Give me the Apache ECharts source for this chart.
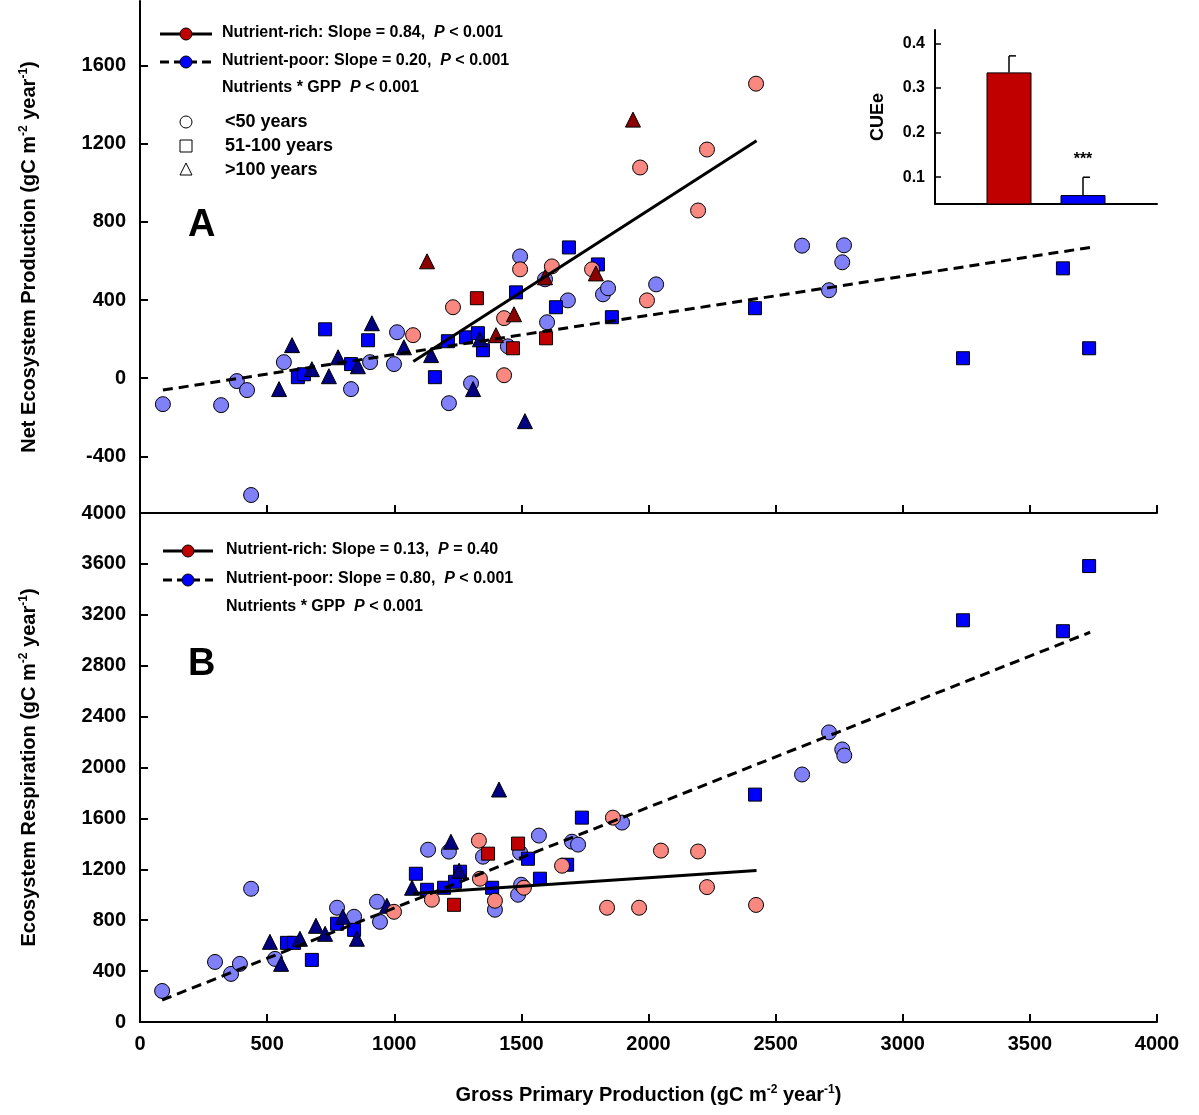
<!DOCTYPE html>
<html>
<head>
<meta charset="utf-8">
<script src="https://cdn.jsdelivr.net/npm/echarts@6/dist/echarts.min.js"></script>
<style>html,body{margin:0;padding:0;background:#fff}#main{width:1199px;height:1115px}</style>
</head>
<body>
<div id="main"></div>
<script>
// panel A: [GPP, NEP]
const nepPoorCircle = [[90,-133],[319,-138],[381,-15],[421,-61],[437,-598],[566,82],[830,-56],[905,82],[999,72],[1011,235],[1215,-128],[1302,-26],[1447,163],[1495,623],[1593,506],[1601,286],[1683,398],[1821,429],[1841,460],[2030,480],[2604,678],[2710,450],[2762,593],[2769,680]];
const nepPoorSquare = [[621,5],[645,20],[728,250],[830,72],[897,194],[1160,5],[1211,189],[1282,209],[1329,230],[1349,143],[1479,439],[1636,363],[1687,669],[1801,582],[1856,312],[2419,358],[3237,102],[3630,562],[3733,153]];
const nepPoorTri = [[547,-56],[598,169],[676,46],[743,10],[779,107],[857,61],[912,281],[1038,158],[1145,118],[1310,-56],[1337,199],[1514,-220]];
const nepRichCircle = [[1074,220],[1231,363],[1432,307],[1432,15],[1495,557],[1620,572],[1778,557],[1994,398],[1967,1078],[2230,1170],[2195,858],[2423,1507]];
const nepRichSquare = [[1325,409],[1467,153],[1597,204]];
const nepRichTri = [[1129,598],[1400,220],[1471,327],[1593,516],[1793,536],[1939,1323]];
const nepRichFit = [[1075,85],[2425,1215]];
const nepPoorFit = [[90,-61],[3737,669]];

// panel B: [GPP, ER]
const erPoorCircle = [[87,244],[295,472],[358,378],[393,457],[437,1047],[531,496],[775,898],[842,827],[932,945],[944,787],[1133,1354],[1215,1339],[1349,1299],[1396,882],[1495,1331],[1487,1000],[1499,1079],[1569,1465],[1699,1417],[1723,1394],[1896,1567],[2604,1945],[2710,2276],[2762,2142],[2770,2094]];
const erPoorSquare = [[578,622],[606,622],[676,488],[775,772],[842,724],[1085,1165],[1129,1039],[1196,1055],[1239,1102],[1259,1181],[1385,1055],[1526,1283],[1573,1126],[1680,1236],[1738,1606],[2419,1787],[3237,3157],[3630,3071],[3733,3583]];
const erPoorTri = [[511,630],[555,457],[629,654],[692,756],[728,693],[798,827],[853,654],[971,913],[1070,1055],[1223,1417],[1255,1189],[1412,1827]];
const erRichCircle = [[999,866],[1148,961],[1333,1425],[1337,1126],[1396,953],[1510,1055],[1660,1228],[1860,1606],[1837,898],[2049,1347],[1963,898],[2230,1060],[2195,1340],[2423,920]];
const erRichSquare = [[1235,921],[1369,1323],[1487,1402]];
const erRichFit = [[1075,1010],[2425,1190]];
const erPoorFit = [[87,173],[3737,3063]];

// inset CUEe
const cueValues = [[1,0.335],[2,0.06]];
const cueErr = [[1,0.335,0.372],[2,0.06,0.10]];

const nepTicks = [-400,0,400,800,1200,1600];
const cueTicks = [0.1,0.2,0.3,0.4];

const FONT = 'Liberation Sans';
const col = {
  poorCircle: '#8080f8', poorSquare: '#0000ff', poorTri: '#000080',
  richCircle: '#f88880', richSquare: '#c00000', richTri: '#8b0000'
};

function pts(data, symbol, color, idx, size) {
  return {
    type: 'scatter', xAxisIndex: idx, yAxisIndex: idx, data: data,
    symbol: symbol, symbolSize: size || 15,
    itemStyle: {color: color, borderColor: '#000', borderWidth: 1, opacity: 1},
    z: 3
  };
}
function fit(data, dashed, idx) {
  return {
    type: 'line', xAxisIndex: idx, yAxisIndex: idx, data: data, symbol: 'none',
    lineStyle: {color: '#000', width: 3, type: dashed ? [10, 6] : 'solid'}, z: 4
  };
}
const plain = function (v) { return String(v); };

const axisLineStyle = {show: true, onZero: false, lineStyle: {color: '#000', width: 2}};
const labelStyle = {color: '#000', fontSize: 20, fontWeight: 'bold', fontFamily: FONT, formatter: plain};
const nameRich = {
  b: {fontSize: 20, fontWeight: 'bold', fontFamily: FONT, color: '#000'},
  s: {fontSize: 12, fontWeight: 'bold', fontFamily: FONT, color: '#000', padding: [0, 0, 10, 0]}
};

const option = {
  animation: false,
  grid: [
    {left: 140, top: 1, width: 1017, height: 512},
    {left: 140, top: 513, width: 1017, height: 509},
    {left: 935, top: 30, width: 222, height: 174}
  ],
  xAxis: [
    {gridIndex: 0, type: 'value', min: 0, max: 4000, interval: 500,
      axisLine: axisLineStyle, axisTick: {inside: true, length: 8, lineStyle: {color: '#000', width: 2}},
      axisLabel: {show: false}, splitLine: {show: false}},
    {gridIndex: 1, type: 'value', min: 0, max: 4000, interval: 500,
      axisLine: axisLineStyle, axisTick: {inside: true, length: 8, lineStyle: {color: '#000', width: 2}},
      axisLabel: Object.assign({margin: 12}, labelStyle), splitLine: {show: false},
      name: '{b|Gross Primary Production (gC m}{s|-2}{b| year}{s|-1}{b|)}',
      nameLocation: 'middle', nameGap: 62, nameTextStyle: {rich: nameRich}},
    {gridIndex: 2, type: 'value', min: 0, max: 3,
      axisLine: axisLineStyle, axisTick: {show: false}, axisLabel: {show: false}, splitLine: {show: false}}
  ],
  yAxis: [
    {gridIndex: 0, type: 'value', min: -690, max: 1930,
      axisLine: axisLineStyle,
      axisTick: {inside: true, length: 8, customValues: nepTicks, lineStyle: {color: '#000', width: 2}},
      axisLabel: Object.assign({customValues: nepTicks, margin: 14}, labelStyle), splitLine: {show: false},
      name: '{b|Net Ecosystem Production (gC m}{s|-2}{b| year}{s|-1}{b|)}',
      nameLocation: 'middle', nameGap: 100, nameTextStyle: {rich: nameRich}},
    {gridIndex: 1, type: 'value', min: 0, max: 4000, interval: 400,
      axisLine: axisLineStyle,
      axisTick: {inside: true, length: 8, lineStyle: {color: '#000', width: 2}},
      axisLabel: Object.assign({margin: 14}, labelStyle), splitLine: {show: false},
      name: '{b|Ecosystem Respiration (gC m}{s|-2}{b| year}{s|-1}{b|)}',
      nameLocation: 'middle', nameGap: 100, nameTextStyle: {rich: nameRich}},
    {gridIndex: 2, type: 'value', min: 0.04, max: 0.43,
      axisLine: axisLineStyle,
      axisTick: {inside: true, length: 6, customValues: cueTicks, lineStyle: {color: '#000', width: 1.5}},
      axisLabel: {customValues: cueTicks, color: '#000', fontSize: 16, fontWeight: 'bold', fontFamily: FONT, margin: 10},
      splitLine: {show: false},
      name: 'CUEe', nameLocation: 'middle', nameGap: 48,
      nameTextStyle: {fontSize: 18, fontWeight: 'bold', fontFamily: FONT, color: '#000'}}
  ],
  series: [
    fit(nepPoorFit, true, 0),
    fit(nepRichFit, false, 0),
    pts(nepPoorCircle, 'circle', col.poorCircle, 0),
    pts(nepPoorSquare, 'rect', col.poorSquare, 0, 13),
    pts(nepPoorTri, 'triangle', col.poorTri, 0),
    pts(nepRichCircle, 'circle', col.richCircle, 0),
    pts(nepRichSquare, 'rect', col.richSquare, 0, 13),
    pts(nepRichTri, 'triangle', col.richTri, 0),
    fit(erPoorFit, true, 1),
    fit(erRichFit, false, 1),
    pts(erPoorCircle, 'circle', col.poorCircle, 1),
    pts(erPoorSquare, 'rect', col.poorSquare, 1, 13),
    pts(erPoorTri, 'triangle', col.poorTri, 1),
    pts(erRichCircle, 'circle', col.richCircle, 1),
    pts(erRichSquare, 'rect', col.richSquare, 1, 13),
    {type: 'bar', xAxisIndex: 2, yAxisIndex: 2, data: cueValues, barWidth: 45,
      itemStyle: {color: function (p) { return p.dataIndex === 0 ? '#c00000' : '#0000ff'; }, borderColor: '#000', borderWidth: 1},
      label: {show: true, position: 'top', offset: [0, -22], fontSize: 16, fontWeight: 'bold', color: '#000',
        fontFamily: FONT, formatter: function (p) { return p.dataIndex === 1 ? '***' : ''; }}},
    {type: 'custom', xAxisIndex: 2, yAxisIndex: 2, data: cueErr, z: 5,
      renderItem: function (params, api) {
        const base = api.coord([api.value(0), api.value(1)]);
        const top = api.coord([api.value(0), api.value(2)]);
        return {type: 'group', children: [
          {type: 'line', shape: {x1: base[0], y1: base[1], x2: top[0], y2: top[1]}, style: {stroke: '#000', lineWidth: 1.5}},
          {type: 'line', shape: {x1: top[0], y1: top[1], x2: top[0] + 7, y2: top[1]}, style: {stroke: '#000', lineWidth: 1.5}}
        ]};
      }}
  ],
  graphic: []
};

// legends & panel letters
const g = option.graphic;
const txt = {fontSize: 16, fontWeight: 'bold', fontFamily: FONT, fill: '#000'};
function text(x, y, t, extra) {
  g.push({type: 'text', left: x, top: y - 9, style: Object.assign({text: t,
    rich: {i: {fontStyle: 'italic', fontSize: 16, fontWeight: 'bold', fontFamily: FONT}}}, txt, extra || {})});
}
function legLine(x1, x2, y, dashed, color) {
  g.push({type: 'line', shape: {x1: x1, y1: y, x2: x2, y2: y},
    style: {stroke: '#000', lineWidth: 3, lineDash: dashed ? [9, 5] : null}});
  g.push({type: 'circle', shape: {cx: (x1 + x2) / 2, cy: y, r: 6}, style: {fill: color, stroke: '#000', lineWidth: 1}});
}
legLine(160, 212, 34, false, col.richSquare);
text(222, 34, 'Nutrient-rich: Slope = 0.84,  {i|P} < 0.001');
legLine(160, 212, 62, true, col.poorSquare);
text(222, 62, 'Nutrient-poor: Slope = 0.20,  {i|P} < 0.001');
text(222, 89, 'Nutrients * GPP  {i|P} < 0.001');
g.push({type: 'circle', shape: {cx: 186, cy: 122, r: 6}, style: {fill: '#fff', stroke: '#000', lineWidth: 1}});
g.push({type: 'rect', shape: {x: 180, y: 140, width: 12, height: 12}, style: {fill: '#fff', stroke: '#000', lineWidth: 1}});
g.push({type: 'polygon', shape: {points: [[186, 163], [180, 175], [192, 175]]}, style: {fill: '#fff', stroke: '#000', lineWidth: 1}});
text(225, 122, '<50 years', {fontSize: 18});
text(225, 146, '51-100 years', {fontSize: 18});
text(225, 170, '>100 years', {fontSize: 18});
text(188, 216, 'A', {fontSize: 38});

legLine(163, 213, 551, false, col.richSquare);
text(226, 551, 'Nutrient-rich: Slope = 0.13,  {i|P} = 0.40');
legLine(163, 213, 580, true, col.poorSquare);
text(226, 580, 'Nutrient-poor: Slope = 0.80,  {i|P} < 0.001');
text(226, 608, 'Nutrients * GPP  {i|P} < 0.001');
text(188, 655, 'B', {fontSize: 38});

const chart = echarts.init(document.getElementById('main'));
chart.setOption(option);
</script>
</body>
</html>
